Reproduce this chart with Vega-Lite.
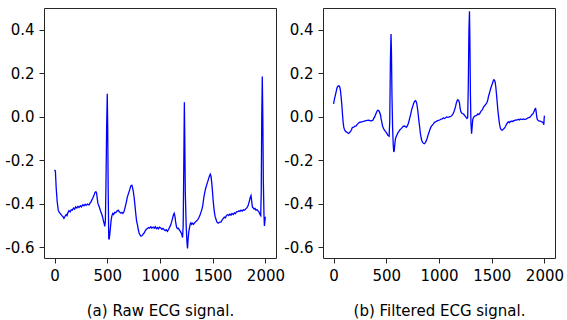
{
  "$schema": "https://vega.github.io/schema/vega-lite/v6.json",
  "padding": {"left": 4, "top": 7, "right": 2, "bottom": 0},
  "bounds": "flush",
  "spacing": 47,
  "config": {
    "view": {"stroke": "#262626", "strokeWidth": 1},
    "axis": {
      "grid": false,
      "domain": false,
      "tickColor": "#262626",
      "tickSize": 5,
      "labelFont": "DejaVu Sans",
      "labelFontSize": 15,
      "labelColor": "#000000",
      "titleFont": "DejaVu Sans",
      "titleFontSize": 15,
      "titleFontWeight": "normal",
      "titleColor": "#000000"
    }
  },
  "datasets": {
    "raw": [
      {"x":0,"y":-0.245},{"x":8,"y":-0.25},{"x":16,"y":-0.33},{"x":25,"y":-0.39},{"x":35,"y":-0.43},{"x":45,"y":-0.44},{"x":57,"y":-0.447},{"x":70,"y":-0.455},{"x":80,"y":-0.46},{"x":89,"y":-0.468},{"x":100,"y":-0.458},{"x":110,"y":-0.45},{"x":118,"y":-0.455},{"x":128,"y":-0.44},{"x":137,"y":-0.432},{"x":148,"y":-0.438},{"x":158,"y":-0.428},{"x":168,"y":-0.43},{"x":180,"y":-0.42},{"x":190,"y":-0.425},{"x":200,"y":-0.415},{"x":212,"y":-0.42},{"x":222,"y":-0.412},{"x":232,"y":-0.418},{"x":245,"y":-0.41},{"x":255,"y":-0.415},{"x":268,"y":-0.405},{"x":279,"y":-0.41},{"x":290,"y":-0.403},{"x":300,"y":-0.408},{"x":312,"y":-0.402},{"x":327,"y":-0.406},{"x":335,"y":-0.398},{"x":342,"y":-0.395},{"x":352,"y":-0.385},{"x":365,"y":-0.372},{"x":375,"y":-0.36},{"x":384,"y":-0.348},{"x":392,"y":-0.345},{"x":399,"y":-0.352},{"x":406,"y":-0.38},{"x":412,"y":-0.4},{"x":420,"y":-0.41},{"x":431,"y":-0.426},{"x":440,"y":-0.44},{"x":447,"y":-0.448},{"x":455,"y":-0.46},{"x":463,"y":-0.478},{"x":470,"y":-0.49},{"x":476,"y":-0.505},{"x":482,"y":-0.48},{"x":488,"y":-0.3},{"x":494,"y":-0.05},{"x":500,"y":0.105},{"x":504,"y":-0.05},{"x":509,"y":-0.35},{"x":514,"y":-0.56},{"x":518,"y":-0.565},{"x":524,"y":-0.54},{"x":530,"y":-0.51},{"x":537,"y":-0.475},{"x":544,"y":-0.455},{"x":552,"y":-0.445},{"x":560,"y":-0.45},{"x":570,"y":-0.44},{"x":580,"y":-0.442},{"x":590,"y":-0.435},{"x":603,"y":-0.43},{"x":612,"y":-0.436},{"x":620,"y":-0.44},{"x":628,"y":-0.444},{"x":638,"y":-0.44},{"x":648,"y":-0.445},{"x":660,"y":-0.435},{"x":670,"y":-0.415},{"x":680,"y":-0.395},{"x":690,"y":-0.37},{"x":700,"y":-0.355},{"x":710,"y":-0.34},{"x":723,"y":-0.318},{"x":733,"y":-0.315},{"x":739,"y":-0.325},{"x":747,"y":-0.345},{"x":755,"y":-0.373},{"x":763,"y":-0.41},{"x":771,"y":-0.45},{"x":778,"y":-0.48},{"x":786,"y":-0.496},{"x":794,"y":-0.52},{"x":802,"y":-0.535},{"x":812,"y":-0.545},{"x":820,"y":-0.55},{"x":827,"y":-0.548},{"x":835,"y":-0.545},{"x":842,"y":-0.538},{"x":850,"y":-0.535},{"x":860,"y":-0.525},{"x":870,"y":-0.518},{"x":881,"y":-0.514},{"x":890,"y":-0.51},{"x":900,"y":-0.513},{"x":913,"y":-0.506},{"x":922,"y":-0.512},{"x":935,"y":-0.508},{"x":945,"y":-0.513},{"x":955,"y":-0.506},{"x":965,"y":-0.515},{"x":976,"y":-0.51},{"x":985,"y":-0.516},{"x":995,"y":-0.508},{"x":1008,"y":-0.512},{"x":1018,"y":-0.518},{"x":1028,"y":-0.514},{"x":1040,"y":-0.52},{"x":1050,"y":-0.524},{"x":1060,"y":-0.52},{"x":1071,"y":-0.527},{"x":1080,"y":-0.52},{"x":1090,"y":-0.51},{"x":1100,"y":-0.5},{"x":1110,"y":-0.485},{"x":1119,"y":-0.468},{"x":1128,"y":-0.45},{"x":1135,"y":-0.444},{"x":1142,"y":-0.46},{"x":1150,"y":-0.49},{"x":1157,"y":-0.508},{"x":1165,"y":-0.515},{"x":1175,"y":-0.513},{"x":1182,"y":-0.52},{"x":1190,"y":-0.525},{"x":1198,"y":-0.532},{"x":1206,"y":-0.54},{"x":1214,"y":-0.556},{"x":1220,"y":-0.5},{"x":1226,"y":-0.2},{"x":1231,"y":0.066},{"x":1235,"y":-0.1},{"x":1240,"y":-0.35},{"x":1248,"y":-0.5},{"x":1256,"y":-0.58},{"x":1261,"y":-0.606},{"x":1267,"y":-0.56},{"x":1273,"y":-0.53},{"x":1280,"y":-0.51},{"x":1287,"y":-0.492},{"x":1293,"y":-0.488},{"x":1300,"y":-0.495},{"x":1310,"y":-0.49},{"x":1318,"y":-0.495},{"x":1325,"y":-0.49},{"x":1335,"y":-0.485},{"x":1345,"y":-0.48},{"x":1357,"y":-0.475},{"x":1368,"y":-0.465},{"x":1378,"y":-0.455},{"x":1388,"y":-0.44},{"x":1398,"y":-0.425},{"x":1405,"y":-0.41},{"x":1413,"y":-0.38},{"x":1420,"y":-0.36},{"x":1428,"y":-0.34},{"x":1435,"y":-0.327},{"x":1445,"y":-0.31},{"x":1455,"y":-0.295},{"x":1461,"y":-0.285},{"x":1470,"y":-0.272},{"x":1477,"y":-0.265},{"x":1484,"y":-0.275},{"x":1490,"y":-0.3},{"x":1497,"y":-0.34},{"x":1503,"y":-0.38},{"x":1509,"y":-0.41},{"x":1516,"y":-0.44},{"x":1523,"y":-0.46},{"x":1531,"y":-0.472},{"x":1540,"y":-0.485},{"x":1553,"y":-0.49},{"x":1565,"y":-0.485},{"x":1578,"y":-0.485},{"x":1590,"y":-0.475},{"x":1600,"y":-0.468},{"x":1610,"y":-0.462},{"x":1620,"y":-0.465},{"x":1630,"y":-0.455},{"x":1642,"y":-0.45},{"x":1652,"y":-0.455},{"x":1663,"y":-0.448},{"x":1673,"y":-0.453},{"x":1683,"y":-0.445},{"x":1695,"y":-0.45},{"x":1705,"y":-0.443},{"x":1715,"y":-0.446},{"x":1725,"y":-0.438},{"x":1737,"y":-0.437},{"x":1748,"y":-0.433},{"x":1758,"y":-0.436},{"x":1768,"y":-0.43},{"x":1780,"y":-0.434},{"x":1790,"y":-0.428},{"x":1800,"y":-0.43},{"x":1812,"y":-0.425},{"x":1825,"y":-0.418},{"x":1835,"y":-0.41},{"x":1843,"y":-0.395},{"x":1848,"y":-0.388},{"x":1856,"y":-0.37},{"x":1863,"y":-0.362},{"x":1870,"y":-0.39},{"x":1876,"y":-0.415},{"x":1885,"y":-0.42},{"x":1893,"y":-0.425},{"x":1901,"y":-0.422},{"x":1910,"y":-0.43},{"x":1920,"y":-0.427},{"x":1930,"y":-0.433},{"x":1940,"y":-0.44},{"x":1948,"y":-0.45},{"x":1955,"y":-0.455},{"x":1960,"y":-0.35},{"x":1965,"y":0.0},{"x":1970,"y":0.185},{"x":1975,"y":0.0},{"x":1980,"y":-0.3},{"x":1986,"y":-0.45},{"x":1990,"y":-0.503},{"x":1995,"y":-0.48},{"x":1999,"y":-0.46}
    ],
    "filtered": [
      {"x":0,"y":0.059},{"x":9,"y":0.082},{"x":18,"y":0.1},{"x":25,"y":0.115},{"x":33,"y":0.133},{"x":41,"y":0.14},{"x":50,"y":0.142},{"x":57,"y":0.139},{"x":62,"y":0.13},{"x":66,"y":0.118},{"x":72,"y":0.09},{"x":79,"y":0.051},{"x":85,"y":0.01},{"x":91,"y":-0.026},{"x":97,"y":-0.048},{"x":104,"y":-0.06},{"x":112,"y":-0.066},{"x":120,"y":-0.07},{"x":130,"y":-0.073},{"x":142,"y":-0.077},{"x":150,"y":-0.074},{"x":161,"y":-0.068},{"x":170,"y":-0.06},{"x":176,"y":-0.052},{"x":183,"y":-0.049},{"x":192,"y":-0.048},{"x":200,"y":-0.044},{"x":214,"y":-0.042},{"x":225,"y":-0.035},{"x":235,"y":-0.03},{"x":246,"y":-0.026},{"x":255,"y":-0.024},{"x":265,"y":-0.025},{"x":278,"y":-0.022},{"x":290,"y":-0.02},{"x":300,"y":-0.019},{"x":309,"y":-0.018},{"x":320,"y":-0.017},{"x":330,"y":-0.016},{"x":341,"y":-0.017},{"x":350,"y":-0.019},{"x":360,"y":-0.019},{"x":373,"y":-0.016},{"x":381,"y":-0.008},{"x":389,"y":-0.002},{"x":397,"y":0.008},{"x":405,"y":0.017},{"x":413,"y":0.026},{"x":420,"y":0.03},{"x":429,"y":0.028},{"x":437,"y":0.02},{"x":445,"y":0.008},{"x":451,"y":-0.01},{"x":458,"y":-0.026},{"x":466,"y":-0.045},{"x":477,"y":-0.057},{"x":485,"y":-0.063},{"x":492,"y":-0.068},{"x":499,"y":-0.072},{"x":507,"y":-0.078},{"x":514,"y":-0.085},{"x":521,"y":-0.088},{"x":527,"y":-0.09},{"x":533,"y":-0.02},{"x":539,"y":0.25},{"x":545,"y":0.38},{"x":549,"y":0.3},{"x":554,"y":0.1},{"x":560,"y":-0.05},{"x":566,"y":-0.13},{"x":571,"y":-0.162},{"x":576,"y":-0.155},{"x":582,"y":-0.12},{"x":588,"y":-0.1},{"x":594,"y":-0.092},{"x":600,"y":-0.085},{"x":609,"y":-0.075},{"x":620,"y":-0.068},{"x":630,"y":-0.06},{"x":641,"y":-0.055},{"x":650,"y":-0.05},{"x":660,"y":-0.044},{"x":673,"y":-0.043},{"x":683,"y":-0.046},{"x":690,"y":-0.049},{"x":700,"y":-0.042},{"x":710,"y":-0.03},{"x":720,"y":-0.011},{"x":730,"y":0.008},{"x":740,"y":0.03},{"x":752,"y":0.05},{"x":762,"y":0.064},{"x":770,"y":0.071},{"x":777,"y":0.074},{"x":784,"y":0.07},{"x":790,"y":0.058},{"x":797,"y":0.035},{"x":803,"y":0.01},{"x":809,"y":-0.018},{"x":816,"y":-0.045},{"x":823,"y":-0.075},{"x":831,"y":-0.098},{"x":838,"y":-0.112},{"x":845,"y":-0.118},{"x":853,"y":-0.122},{"x":860,"y":-0.124},{"x":867,"y":-0.121},{"x":872,"y":-0.118},{"x":880,"y":-0.11},{"x":887,"y":-0.1},{"x":894,"y":-0.088},{"x":903,"y":-0.075},{"x":913,"y":-0.06},{"x":925,"y":-0.046},{"x":935,"y":-0.04},{"x":945,"y":-0.034},{"x":957,"y":-0.026},{"x":967,"y":-0.024},{"x":978,"y":-0.02},{"x":989,"y":-0.018},{"x":1000,"y":-0.016},{"x":1010,"y":-0.014},{"x":1020,"y":-0.011},{"x":1030,"y":-0.01},{"x":1040,"y":-0.006},{"x":1052,"y":-0.008},{"x":1062,"y":-0.005},{"x":1072,"y":-0.001},{"x":1083,"y":-0.003},{"x":1093,"y":-0.002},{"x":1103,"y":0.0},{"x":1115,"y":0.002},{"x":1123,"y":0.006},{"x":1131,"y":0.012},{"x":1140,"y":0.02},{"x":1148,"y":0.032},{"x":1156,"y":0.045},{"x":1163,"y":0.06},{"x":1170,"y":0.072},{"x":1178,"y":0.078},{"x":1186,"y":0.075},{"x":1194,"y":0.063},{"x":1200,"y":0.04},{"x":1206,"y":0.025},{"x":1213,"y":0.018},{"x":1222,"y":0.015},{"x":1232,"y":0.012},{"x":1240,"y":0.008},{"x":1248,"y":0.003},{"x":1257,"y":-0.003},{"x":1265,"y":-0.008},{"x":1272,"y":-0.005},{"x":1278,"y":0.15},{"x":1284,"y":0.4},{"x":1289,"y":0.485},{"x":1293,"y":0.35},{"x":1298,"y":0.1},{"x":1303,"y":-0.03},{"x":1309,"y":-0.078},{"x":1314,"y":-0.05},{"x":1320,"y":-0.012},{"x":1328,"y":-0.003},{"x":1336,"y":0.002},{"x":1345,"y":0.004},{"x":1352,"y":0.005},{"x":1360,"y":0.008},{"x":1368,"y":0.013},{"x":1376,"y":0.01},{"x":1384,"y":0.012},{"x":1392,"y":0.02},{"x":1399,"y":0.026},{"x":1408,"y":0.03},{"x":1416,"y":0.038},{"x":1424,"y":0.045},{"x":1431,"y":0.05},{"x":1440,"y":0.055},{"x":1448,"y":0.06},{"x":1456,"y":0.066},{"x":1463,"y":0.078},{"x":1470,"y":0.095},{"x":1478,"y":0.108},{"x":1485,"y":0.12},{"x":1492,"y":0.133},{"x":1500,"y":0.143},{"x":1508,"y":0.155},{"x":1515,"y":0.165},{"x":1520,"y":0.17},{"x":1526,"y":0.168},{"x":1532,"y":0.16},{"x":1538,"y":0.14},{"x":1543,"y":0.115},{"x":1548,"y":0.089},{"x":1553,"y":0.06},{"x":1558,"y":0.03},{"x":1564,"y":0.005},{"x":1570,"y":-0.02},{"x":1576,"y":-0.04},{"x":1582,"y":-0.052},{"x":1590,"y":-0.06},{"x":1597,"y":-0.062},{"x":1605,"y":-0.06},{"x":1613,"y":-0.056},{"x":1621,"y":-0.052},{"x":1630,"y":-0.045},{"x":1640,"y":-0.035},{"x":1652,"y":-0.026},{"x":1660,"y":-0.024},{"x":1668,"y":-0.028},{"x":1676,"y":-0.022},{"x":1683,"y":-0.022},{"x":1692,"y":-0.02},{"x":1700,"y":-0.023},{"x":1708,"y":-0.018},{"x":1716,"y":-0.018},{"x":1726,"y":-0.015},{"x":1735,"y":-0.016},{"x":1747,"y":-0.014},{"x":1756,"y":-0.012},{"x":1764,"y":-0.015},{"x":1771,"y":-0.011},{"x":1778,"y":-0.011},{"x":1790,"y":-0.013},{"x":1800,"y":-0.01},{"x":1812,"y":-0.012},{"x":1826,"y":-0.011},{"x":1835,"y":-0.008},{"x":1845,"y":-0.005},{"x":1858,"y":-0.003},{"x":1866,"y":0.0},{"x":1875,"y":0.005},{"x":1882,"y":0.01},{"x":1889,"y":0.012},{"x":1898,"y":0.02},{"x":1906,"y":0.03},{"x":1912,"y":0.037},{"x":1916,"y":0.038},{"x":1920,"y":0.028},{"x":1924,"y":0.012},{"x":1930,"y":-0.01},{"x":1937,"y":-0.016},{"x":1943,"y":-0.018},{"x":1952,"y":-0.02},{"x":1960,"y":-0.02},{"x":1968,"y":-0.022},{"x":1976,"y":-0.024},{"x":1984,"y":-0.026},{"x":1990,"y":-0.03},{"x":1994,"y":-0.037},{"x":1997,"y":-0.01},{"x":2000,"y":0.005}
    ]
  },
  "hconcat": [
    {
      "width": 232,
      "height": 250,
      "data": {"name": "raw"},
      "mark": {"type": "line", "color": "#0000ff", "strokeWidth": 1.3, "clip": true},
      "encoding": {
        "x": {"field": "x", "type": "quantitative",
              "scale": {"domain": [-100, 2100], "nice": false, "zero": false},
              "axis": {"values": [0, 500, 1000, 1500, 2000], "format": "d", "labelPadding": 5, "title": "(a) Raw ECG signal.", "titlePadding": 20}},
        "y": {"field": "y", "type": "quantitative",
              "scale": {"domain": [-0.65, 0.5], "nice": false, "zero": false},
              "axis": {"values": [-0.6, -0.4, -0.2, 0, 0.2, 0.4], "labelPadding": 5, "title": null,
                       "labelExpr": "replace(format(datum.value, '.1f'), '\u2212', '-')"}}
      }
    },
    {
      "width": 232,
      "height": 250,
      "data": {"name": "filtered"},
      "mark": {"type": "line", "color": "#0000ff", "strokeWidth": 1.3, "clip": true},
      "encoding": {
        "x": {"field": "x", "type": "quantitative",
              "scale": {"domain": [-100, 2100], "nice": false, "zero": false},
              "axis": {"values": [0, 500, 1000, 1500, 2000], "format": "d", "labelPadding": 5, "title": "(b) Filtered ECG signal.", "titlePadding": 20}},
        "y": {"field": "y", "type": "quantitative",
              "scale": {"domain": [-0.65, 0.5], "nice": false, "zero": false},
              "axis": {"values": [-0.6, -0.4, -0.2, 0, 0.2, 0.4], "labelPadding": 5, "title": null,
                       "labelExpr": "replace(format(datum.value, '.1f'), '\u2212', '-')"}}
      }
    }
  ]
}
